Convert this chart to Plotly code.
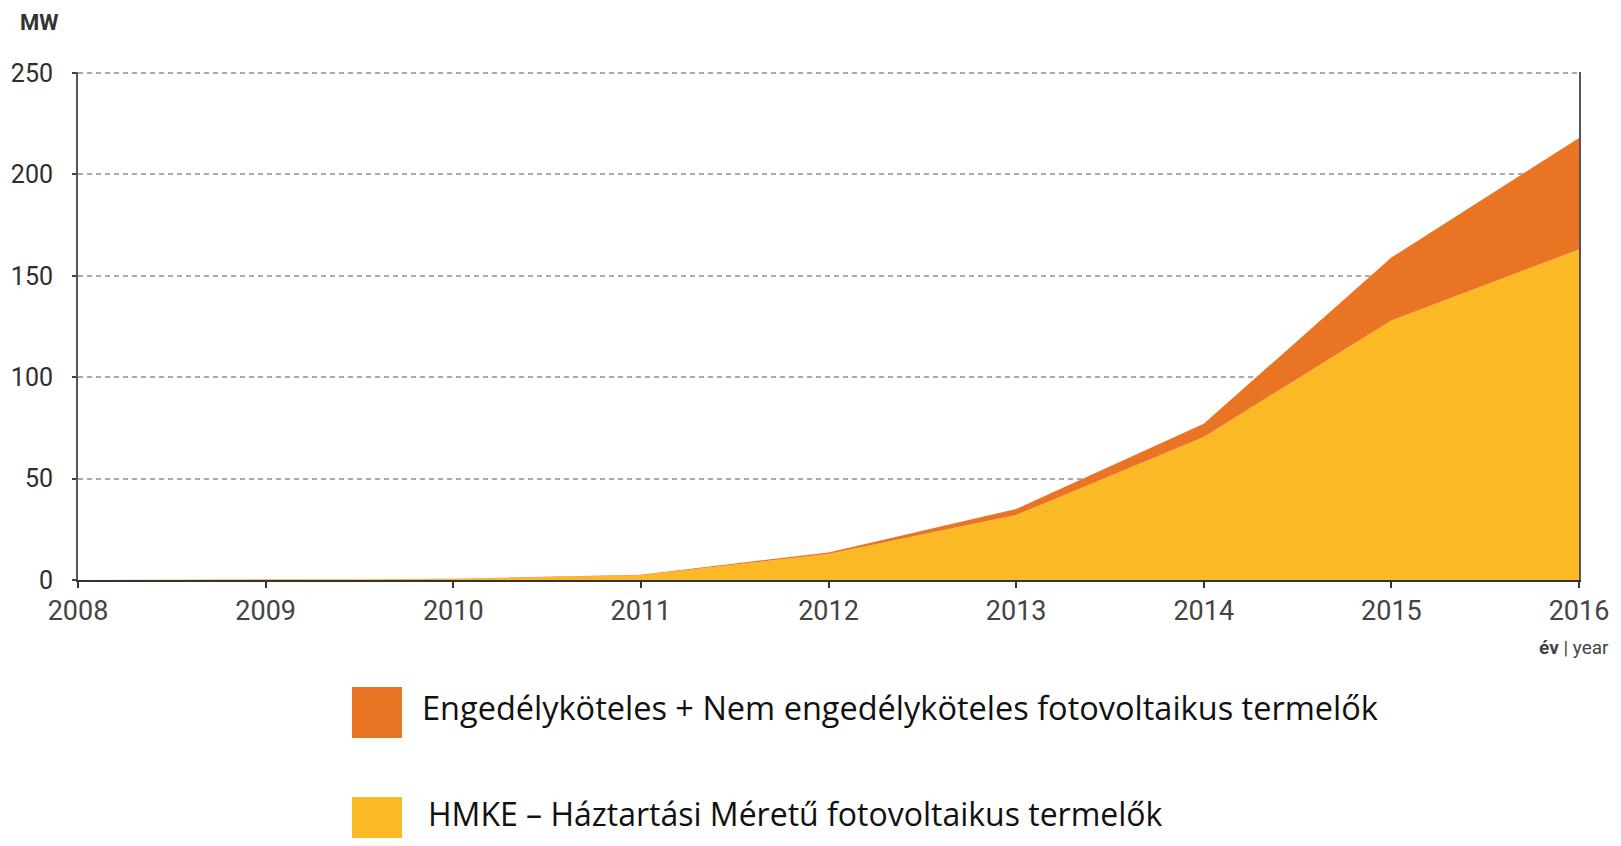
import plotly.graph_objects as go

years = [2008, 2009, 2010, 2011, 2012, 2013, 2014, 2015, 2016]
hmke = [0, 0.1, 0.5, 2.3, 12.8, 32, 70.5, 128, 163]
engedelykoteles = [0, 0, 0.1, 0.3, 0.8, 3, 6.5, 31, 55]

series_names = [
    "HMKE – Háztartási Méretű fotovoltaikus termelők",
    "Engedélyköteles + Nem engedélyköteles fotovoltaikus termelők",
]
colors = ["#FBB926", "#E87424"]
y_ticks = [0, 50, 100, 150, 200, 250]

fig = go.Figure()
fig.add_trace(go.Scatter(x=years, y=hmke, name=series_names[0], stackgroup="one",
                         mode="lines", line=dict(width=0, color=colors[0]),
                         fillcolor=colors[0], hoverinfo="x+y"))
fig.add_trace(go.Scatter(x=years, y=engedelykoteles, name=series_names[1], stackgroup="one",
                         mode="lines", line=dict(width=0, color=colors[1]),
                         fillcolor=colors[1], hoverinfo="x+y"))

# page body has an 8px margin: lay the figure out in window pixels minus 8
OFF = 8
W, H = 1621 - 2 * OFF, 846 - 2 * OFF
L = 78 - OFF
T = 72 - OFF
R = W - (1579 - OFF)
B = H - (580 - OFF)
pw, ph = W - L - R, H - T - B

def px(x):
    return (x - OFF - L) / pw

def py(y):
    return (H - B - (y - OFF)) / ph

fig.update_layout(
    width=W, height=H,
    margin=dict(l=L, r=R, t=T, b=B, autoexpand=False),
    paper_bgcolor="white", plot_bgcolor="white",
    showlegend=False,
    font=dict(family="Roboto", color="#3a3a3a"),
    xaxis=dict(range=[2008, 2016], tickvals=years, ticktext=[str(y) for y in years],
               showgrid=False, zeroline=False, showline=True, linecolor="#333333",
               linewidth=2, ticks="outside", ticklen=6, tickwidth=2, tickcolor="#333333",
               automargin=False,
               tickfont=dict(size=27, family="Roboto", color="#444444")),
    yaxis=dict(range=[0, 250.5], tickvals=y_ticks, showgrid=True, gridcolor="#aaaaaa",
               gridwidth=2, griddash="5px,4px", zeroline=False, showline=True,
               linecolor="#555555", linewidth=2, mirror=True, ticks="outside",
               ticklen=4, tickwidth=2, tickcolor="#444444", ticklabelstandoff=14,
               automargin=False,
               tickfont=dict(size=25, family="Roboto", color="#2e2e2e")),
)

annotations = [
    dict(text="<b>MW</b>", x=px(19), y=py(23), xanchor="left", yanchor="middle",
         font=dict(size=22, family="Roboto", color="#333333")),
    dict(text="<b>év</b> | year", x=px(1610), y=py(647), xanchor="right", yanchor="middle",
         font=dict(size=19, family="Roboto", color="#444444")),
    dict(text=series_names[1], x=px(421), y=py(707), xanchor="left", yanchor="middle",
         font=dict(size=32.5, family="Open Sans", color="#111111")),
    dict(text=series_names[0], x=px(427), y=py(813), xanchor="left", yanchor="middle",
         font=dict(size=32, family="Open Sans", color="#111111")),
]
for a in annotations:
    a.update(xref="paper", yref="paper", showarrow=False, borderpad=0)
fig.update_layout(annotations=annotations)

shapes = [
    dict(type="rect", x0=px(352), x1=px(402), y0=py(687), y1=py(738),
         fillcolor=colors[1], line=dict(width=0)),
    dict(type="rect", x0=px(352), x1=px(402), y0=py(797), y1=py(846),
         fillcolor=colors[0], line=dict(width=0)),
]
for s in shapes:
    s.update(xref="paper", yref="paper")
fig.update_layout(shapes=shapes)

fig.write_html("out.html")
